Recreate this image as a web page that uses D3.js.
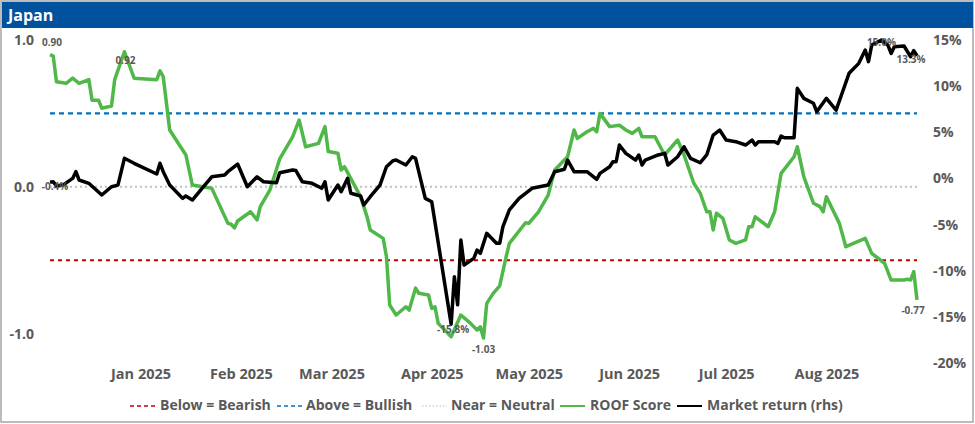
<!DOCTYPE html>
<html>
<head>
<meta charset="utf-8">
<script src="https://cdn.jsdelivr.net/npm/d3@7"></script>
<style>
  html, body { margin: 0; padding: 0; background: #fff; }
  svg { display: block; }
  text { font-family: "Open Sans", "Noto Sans", sans-serif; }
</style>
</head>
<body>
<svg id="chart" width="975" height="424"></svg>
<script>
// ---------- DATA ----------
const title = "Japan";

const roofDates = [
  "2024-12-04","2024-12-05","2024-12-06","2024-12-09","2024-12-11","2024-12-13","2024-12-16","2024-12-17",
  "2024-12-19","2024-12-20","2024-12-23","2024-12-24","2024-12-27","2024-12-30","2025-01-06","2025-01-07",
  "2025-01-08","2025-01-10","2025-01-15","2025-01-17","2025-01-23","2025-01-28","2025-01-29","2025-01-30",
  "2025-01-31","2025-02-04","2025-02-06","2025-02-07","2025-02-10","2025-02-13","2025-02-17","2025-02-19",
  "2025-02-21","2025-02-25","2025-02-27","2025-02-28","2025-03-03","2025-03-04","2025-03-05","2025-03-10",
  "2025-03-12","2025-03-13","2025-03-17","2025-03-18","2025-03-19","2025-03-21","2025-03-24","2025-03-25",
  "2025-03-27","2025-03-28","2025-03-31","2025-04-01","2025-04-02","2025-04-03","2025-04-07","2025-04-10",
  "2025-04-13","2025-04-15","2025-04-16","2025-04-17","2025-04-18","2025-04-20","2025-04-22","2025-04-24",
  "2025-04-25","2025-04-30","2025-05-01","2025-05-04","2025-05-07","2025-05-09","2025-05-13","2025-05-15",
  "2025-05-16","2025-05-19","2025-05-21","2025-05-22","2025-05-23","2025-05-26","2025-05-29","2025-05-31",
  "2025-06-02","2025-06-04","2025-06-05","2025-06-09","2025-06-12","2025-06-16","2025-06-18","2025-06-21",
  "2025-06-23","2025-06-25","2025-06-26","2025-06-27","2025-06-28","2025-06-30","2025-07-02","2025-07-04",
  "2025-07-07","2025-07-08","2025-07-09","2025-07-10","2025-07-14","2025-07-16","2025-07-18","2025-07-22",
  "2025-07-23","2025-07-25","2025-07-28","2025-07-30","2025-07-31","2025-08-01","2025-08-05","2025-08-07",
  "2025-08-13","2025-08-15","2025-08-19","2025-08-21","2025-08-25","2025-08-26","2025-08-27","2025-08-28",
  "2025-08-29"
];
const roofScore = [
  0.90, 0.89, 0.716, 0.705, 0.74, 0.705, 0.73, 0.59,
  0.59, 0.535, 0.55, 0.73, 0.92, 0.74, 0.73, 0.79,
  0.75, 0.387, 0.217, 0.012, -0.01, -0.249, -0.255, -0.28,
  -0.233, -0.17, -0.226, -0.135, -0.02, 0.19, 0.34, 0.455,
  0.273, 0.296, 0.41, 0.24, 0.228, 0.114, 0.137, -0.067,
  -0.204, -0.294, -0.351, -0.476, -0.805, -0.873, -0.817, -0.84,
  -0.69, -0.725, -0.737, -0.828, -0.817, -0.93, -1.021, -0.873,
  -0.93, -0.975, -0.953, -1.03, -0.794, -0.726, -0.675, -0.476,
  -0.385, -0.245, -0.249, -0.17, -0.056, 0.114, 0.205, 0.387,
  0.33, 0.375, 0.398, 0.375, 0.50, 0.41, 0.42, 0.387,
  0.364, 0.398, 0.341, 0.341, 0.217, 0.319, 0.217, 0.024,
  -0.044, -0.17, -0.17, -0.294, -0.18, -0.215, -0.362, -0.385,
  -0.362, -0.272, -0.272, -0.204, -0.272, -0.17, 0.092, 0.205,
  0.273, 0.069, -0.112, -0.135, -0.17, -0.067, -0.249, -0.408,
  -0.351, -0.453, -0.521, -0.635, -0.635, -0.63, -0.635, -0.578,
  -0.77
];

const mktDates = [
  "2024-12-04","2024-12-05","2024-12-06","2024-12-08","2024-12-11","2024-12-12","2024-12-13","2024-12-16",
  "2024-12-20","2024-12-23","2024-12-25","2024-12-27","2024-12-30","2025-01-06","2025-01-07","2025-01-08",
  "2025-01-10","2025-01-14","2025-01-15","2025-01-17","2025-01-20","2025-01-23","2025-01-27","2025-01-28",
  "2025-01-31","2025-02-03","2025-02-06","2025-02-08","2025-02-12","2025-02-13","2025-02-17","2025-02-18",
  "2025-02-20","2025-02-23","2025-02-26","2025-02-27","2025-02-28","2025-03-03","2025-03-04","2025-03-06",
  "2025-03-07","2025-03-10","2025-03-11","2025-03-13","2025-03-16","2025-03-18","2025-03-20","2025-03-21",
  "2025-03-24","2025-03-26","2025-03-27","2025-03-30","2025-04-01","2025-04-07","2025-04-08","2025-04-09",
  "2025-04-10","2025-04-11","2025-04-14","2025-04-15","2025-04-16","2025-04-18","2025-04-21","2025-04-22",
  "2025-04-23","2025-04-25","2025-04-28","2025-05-02","2025-05-07","2025-05-09","2025-05-12","2025-05-13",
  "2025-05-15","2025-05-19","2025-05-22","2025-05-23","2025-05-26","2025-05-27","2025-05-28","2025-05-29",
  "2025-05-31","2025-06-03","2025-06-04","2025-06-05","2025-06-06","2025-06-10","2025-06-12","2025-06-13",
  "2025-06-16","2025-06-18","2025-06-20","2025-06-23","2025-06-25","2025-06-27","2025-06-29","2025-07-01",
  "2025-07-04","2025-07-07","2025-07-09","2025-07-10","2025-07-11","2025-07-16","2025-07-17","2025-07-18",
  "2025-07-19","2025-07-22","2025-07-23","2025-07-25","2025-07-28","2025-07-29","2025-08-01","2025-08-04",
  "2025-08-06","2025-08-08","2025-08-11","2025-08-13","2025-08-14","2025-08-15","2025-08-18","2025-08-20",
  "2025-08-21","2025-08-22","2025-08-25","2025-08-27","2025-08-28","2025-08-29"
];
const mktReturn = [
  -0.4, -0.36, -0.82, -0.72, 0.0, 0.73, -0.17, -0.53,
  -1.8, -0.9, -0.72, 2.18, 1.64, 0.48, 1.64, 0.73,
  -0.72, -2.16, -1.9, -2.34, -1.07, 0.18, 0.37, 0.73,
  1.56, -0.9, 0.18, -0.36, -0.46, 0.62, 0.91, 0.85,
  -0.36, -0.53, -1.07, -0.36, -2.34, -0.72, -1.44, 0.01,
  -1.61, -1.9, -2.88, -1.98, -0.72, 1.27, 1.92, 1.99,
  1.45, 2.35, 2.18, -2.16, -2.52, -15.8, -10.65, -13.7,
  -6.67, -9.38, -8.66, -7.76, -8.12, -5.95, -7.03, -7.03,
  -5.23, -3.42, -2.16, -1.07, -0.72, 0.73, 0.99, 1.99,
  0.73, 0.73, -0.1, 0.55, 1.27, 1.81, 1.81, 3.62,
  2.72, 1.99, 2.54, 1.45, 1.99, 2.54, 2.72, 1.45,
  2.35, 3.43, 2.18, 1.7, 2.54, 4.7, 5.24, 4.16,
  3.98, 3.62, 4.16, 3.62, 3.98, 3.98, 3.8, 4.59,
  4.41, 4.41, 9.76, 8.68, 8.14, 7.23, 8.68, 7.41,
  9.39, 11.39, 12.47, 13.91, 12.65, 14.45, 15.0, 14.45,
  13.55, 14.27, 14.35, 13.19, 13.84, 13.3
];

const leftTicks = [1.0, 0.0, -1.0];
const rightTicks = [15, 10, 5, 0, -5, -10, -15, -20];
const thresholdValues = [0.5, 0.0, -0.5];   // bullish, neutral, bearish
const legendLabels = ["Below = Bearish", "Above = Bullish", "Near = Neutral", "ROOF Score", "Market return (rhs)"];

// ---------- LAYOUT ----------
const svg = d3.select("#chart");
const W = 975, H = 424;
const plot = { left: 50, right: 917, top: 40, bottom: 363 };
const gray = "#595959";
const greenC = "#4FB848";

const parse = d3.timeParse("%Y-%m-%d");
const roof = roofDates.map((d, i) => ({ date: parse(d), v: roofScore[i] }));
const mkt = mktDates.map((d, i) => ({ date: parse(d), v: mktReturn[i] }));

const x = d3.scaleTime()
  .domain([parse(roofDates[0]), parse(roofDates[roofDates.length - 1])])
  .range([plot.left, plot.right]);
const yL = d3.scaleLinear().domain([-1.2, 1.0]).range([plot.bottom, plot.top]);
const yR = d3.scaleLinear().domain([-20, 15]).range([plot.bottom, plot.top]);

// frame & header
svg.append("rect").attr("x", 1).attr("y", 1).attr("width", W - 3).attr("height", H - 3)
  .attr("fill", "#fff").attr("stroke", "#A6A6A6").attr("stroke-width", 1.5);
svg.append("rect").attr("x", 2).attr("y", 2).attr("width", W - 4).attr("height", 26)
  .attr("fill", "#00529E");
svg.append("text").attr("x", 8).attr("y", 21).text(title)
  .attr("fill", "#fff").attr("font-size", 16).attr("font-weight", 700);

// threshold lines
const thrStyles = [
  { color: "#0070C0", dash: "5,4", w: 2.2 },
  { color: "#BFBFBF", dash: "2,3", w: 2 },
  { color: "#C00000", dash: "4,4", w: 2.2 }
];
thresholdValues.forEach((v, i) => {
  svg.append("line")
    .attr("x1", plot.left).attr("x2", plot.right)
    .attr("y1", yL(v)).attr("y2", yL(v))
    .attr("stroke", thrStyles[i].color).attr("stroke-width", thrStyles[i].w)
    .attr("stroke-dasharray", thrStyles[i].dash);
});

// axes
const axL = d3.axisLeft(yL).tickValues(leftTicks).tickFormat(d => d.toFixed(1)).tickSize(0).tickPadding(0);
const gL = svg.append("g").attr("transform", `translate(34,0)`).call(axL);
gL.select(".domain").remove();
gL.selectAll("text").attr("font-size", 14).attr("font-weight", 700).attr("fill", gray)
  .attr("font-family", "'Open Sans', sans-serif");

const axR = d3.axisRight(yR).tickValues(rightTicks).tickFormat(d => d + "%").tickSize(0).tickPadding(0);
const gR = svg.append("g").attr("transform", `translate(933,0)`).call(axR);
gR.select(".domain").remove();
gR.selectAll("text").attr("font-size", 14).attr("font-weight", 700).attr("fill", gray)
  .attr("font-family", "'Open Sans', sans-serif");

const axX = d3.axisBottom(x)
  .tickValues(d3.timeMonth.range(new Date(2025, 0, 1), new Date(2025, 8, 1)))
  .tickFormat(d3.timeFormat("%b %Y")).tickSize(0).tickPadding(0);
const gX = svg.append("g").attr("transform", `translate(0,369)`).call(axX);
gX.select(".domain").remove();
gX.selectAll("text").attr("font-size", 14.5).attr("font-weight", 700).attr("fill", gray)
  .attr("font-family", "'Open Sans', sans-serif");

// lines
const lineL = d3.line().x(d => x(d.date)).y(d => yL(d.v));
const lineR = d3.line().x(d => x(d.date)).y(d => yR(d.v));
svg.append("path").datum(roof).attr("d", lineL)
  .attr("fill", "none").attr("stroke", greenC).attr("stroke-width", 3.5)
  .attr("stroke-linejoin", "round");
svg.append("path").datum(mkt).attr("d", lineR)
  .attr("fill", "none").attr("stroke", "#000").attr("stroke-width", 3.5)
  .attr("stroke-linejoin", "round");

// data labels
function lbl(px, py, txt, dx, dy, size) {
  svg.append("text").attr("x", px + dx).attr("y", py + dy).text(txt)
    .attr("text-anchor", "middle").attr("dominant-baseline", "middle")
    .attr("font-size", size || 10).attr("font-weight", 700).attr("fill", gray);
}
const f2 = v => v.toFixed(2);
const rFirst = roof[0], rLast = roof[roof.length - 1];
const rMax = roof.slice(5, 20).reduce((a, b) => (b.v > a.v ? b : a));
const rMin = roof.reduce((a, b) => (b.v < a.v ? b : a));
lbl(x(rFirst.date), yL(rFirst.v), f2(rFirst.v), 2, -11);
lbl(x(rMax.date), yL(rMax.v), f2(rMax.v), 1, 10);
lbl(x(rMin.date), yL(rMin.v), f2(rMin.v), 0, 12);
lbl(x(rLast.date), yL(rLast.v), f2(rLast.v), -4, 11);

const mFirst = mkt[0], mLast = mkt[mkt.length - 1];
const mMax = mkt.reduce((a, b) => (b.v > a.v ? b : a));
const mMin = mkt.reduce((a, b) => (b.v < a.v ? b : a));
const pf = v => v.toFixed(1) + "%";
lbl(x(mFirst.date), yR(mFirst.v), pf(mFirst.v), 5, 5);
lbl(x(mMin.date), yR(mMin.v), pf(mMin.v), 2, 6);
lbl(x(mMax.date), yR(mMax.v), pf(mMax.v), 0, 3);
lbl(x(mLast.date), yR(mLast.v), pf(mLast.v), -6, 5);

// legend
const legY = 406;
const legSampleX = [130, 277, 422, 560, 677];
const legTextX = [160, 306, 451, 590, 707];
const legStyles = [
  { color: "#C00000", dash: "4,3", w: 1.6 },
  { color: "#0070C0", dash: "4,3", w: 1.6 },
  { color: "#D0D0D0", dash: "1.5,2", w: 1.6 },
  { color: greenC, dash: null, w: 2 },
  { color: "#000", dash: null, w: 2 }
];
legendLabels.forEach((t, i) => {
  svg.append("line").attr("x1", legSampleX[i]).attr("x2", legSampleX[i] + 25)
    .attr("y1", legY).attr("y2", legY)
    .attr("stroke", legStyles[i].color).attr("stroke-width", legStyles[i].w)
    .attr("stroke-dasharray", legStyles[i].dash);
  svg.append("text").attr("x", legTextX[i]).attr("y", legY).attr("dominant-baseline", "middle")
    .text(t).attr("font-size", 14).attr("font-weight", 700).attr("fill", gray);
});
</script>
</body>
</html>
